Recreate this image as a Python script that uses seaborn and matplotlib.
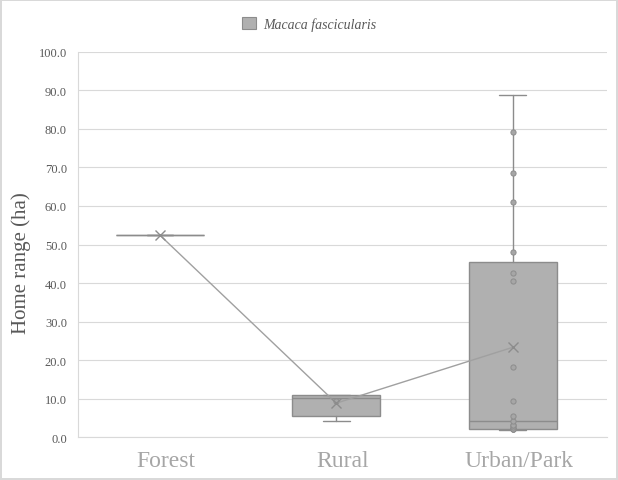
import numpy as np
import pandas as pd
import matplotlib
matplotlib.use("Agg")
import matplotlib.pyplot as plt
from matplotlib.patches import Patch
import seaborn as sns

# data
habitats = ["Forest", "Rural", "Urban/Park"]
forest_ha = [52.4]
rural_ha = [4.3, 9.3, 10.9, 10.9]
urban_ha = [2.0, 2.0, 2.0, 2.1, 2.1, 2.1, 2.2, 2.6, 3.2, 3.3, 4.3, 5.4,
            9.5, 18.1, 40.6, 42.7, 48.1, 61.0, 68.6, 79.2, 88.8]
species = "Macaca fascicularis"
yticks = np.arange(0, 101, 10)

groups = [forest_ha, rural_ha, urban_ha]

sns.set_theme(style="whitegrid")
plt.rcParams["font.family"] = ["Liberation Serif", "DejaVu Serif"]

BOX_FILL = "#b0b0b0"
EDGE = "#8c8c8c"
GRID = "#d9d9d9"
TEXT = "#595959"
OFFSET = -0.035  # Excel draws the boxes slightly left of the category centre

fig = plt.figure(figsize=(6.18, 4.81), dpi=100, linewidth=1.5, edgecolor=GRID)
ax = fig.add_axes([0.1262, 0.0888, 0.8560, 0.8016])


# box stats, Excel style (exclusive quartiles)
def excel_stats(vals):
    v = np.sort(np.asarray(vals, dtype=float))
    q1, med, q3 = np.quantile(v, [0.25, 0.5, 0.75], method="weibull") if len(v) > 1 else (v[0], v[0], v[0])
    iqr = q3 - q1
    lo = v[v >= q1 - 1.5 * iqr].min()
    hi = v[v <= q3 + 1.5 * iqr].max()
    return {"med": med, "q1": q1, "q3": q3, "whislo": min(lo, q1),
            "whishi": max(hi, q3), "fliers": [], "mean": v.mean()}


stats = [excel_stats(g) for g in groups]
pos = np.arange(len(habitats)) + OFFSET

ax.bxp(stats, positions=pos, widths=0.5, capwidths=0.15, patch_artist=True,
       showfliers=False, showmeans=False,
       boxprops=dict(facecolor=BOX_FILL, edgecolor=EDGE, linewidth=1.0),
       medianprops=dict(color=EDGE, linewidth=1.0),
       whiskerprops=dict(color=EDGE, linewidth=1.0),
       capprops=dict(color=EDGE, linewidth=1.0))

# inner points (between the whisker ends)
rows = []
for i, (g, s) in enumerate(zip(groups, stats)):
    for v in g:
        if s["whislo"] < v < s["whishi"]:
            rows.append({"x": pos[i], "ha": v})
pts = pd.DataFrame(rows)
sns.scatterplot(data=pts, x="x", y="ha", ax=ax, s=14, color="#a6a6a6",
                edgecolor=EDGE, linewidth=0.7, zorder=4, legend=False)

# mean markers joined by a line
means = pd.DataFrame({"x": pos, "mean": [s["mean"] for s in stats]})
sns.lineplot(data=means, x="x", y="mean", ax=ax, color="#a0a0a0", linewidth=1.0,
             marker="x", markersize=7, markeredgecolor=EDGE, markeredgewidth=1.0,
             zorder=5, legend=False)

# axes styling
ax.set_xlim(-0.5, 2.5)
ax.set_ylim(0, 100)
ax.set_yticks(yticks)
ax.set_yticklabels([f"{t:.1f}" for t in yticks], fontsize=9, color=TEXT)
ax.set_xticks(range(len(habitats)))
ax.set_xticklabels(habitats, fontsize=17, color="#a6a6a6")
ax.tick_params(axis="y", length=0, pad=8)
ax.tick_params(axis="x", length=0, pad=9)
ax.set_xlabel("")
ax.set_ylabel("Home range (ha)", fontsize=15, color=TEXT)
ax.yaxis.set_label_coords(-0.089, 0.455)
ax.grid(axis="x", visible=False)
ax.grid(axis="y", color=GRID, linewidth=0.8)
for side in ["top", "right"]:
    ax.spines[side].set_visible(False)
for side in ["left", "bottom"]:
    ax.spines[side].set_color(GRID)
    ax.spines[side].set_linewidth(0.8)

# legend at the top
handle = Patch(facecolor=BOX_FILL, edgecolor=EDGE, linewidth=0.8)
leg = fig.legend([handle], [species], loc="center", bbox_to_anchor=(0.5, 0.948),
                 frameon=False, handlelength=1.0, handleheight=1.0, handletextpad=0.5,
                 prop={"style": "italic", "size": 10})
for t in leg.get_texts():
    t.set_color(TEXT)

plt.savefig("out.png", dpi=100)
